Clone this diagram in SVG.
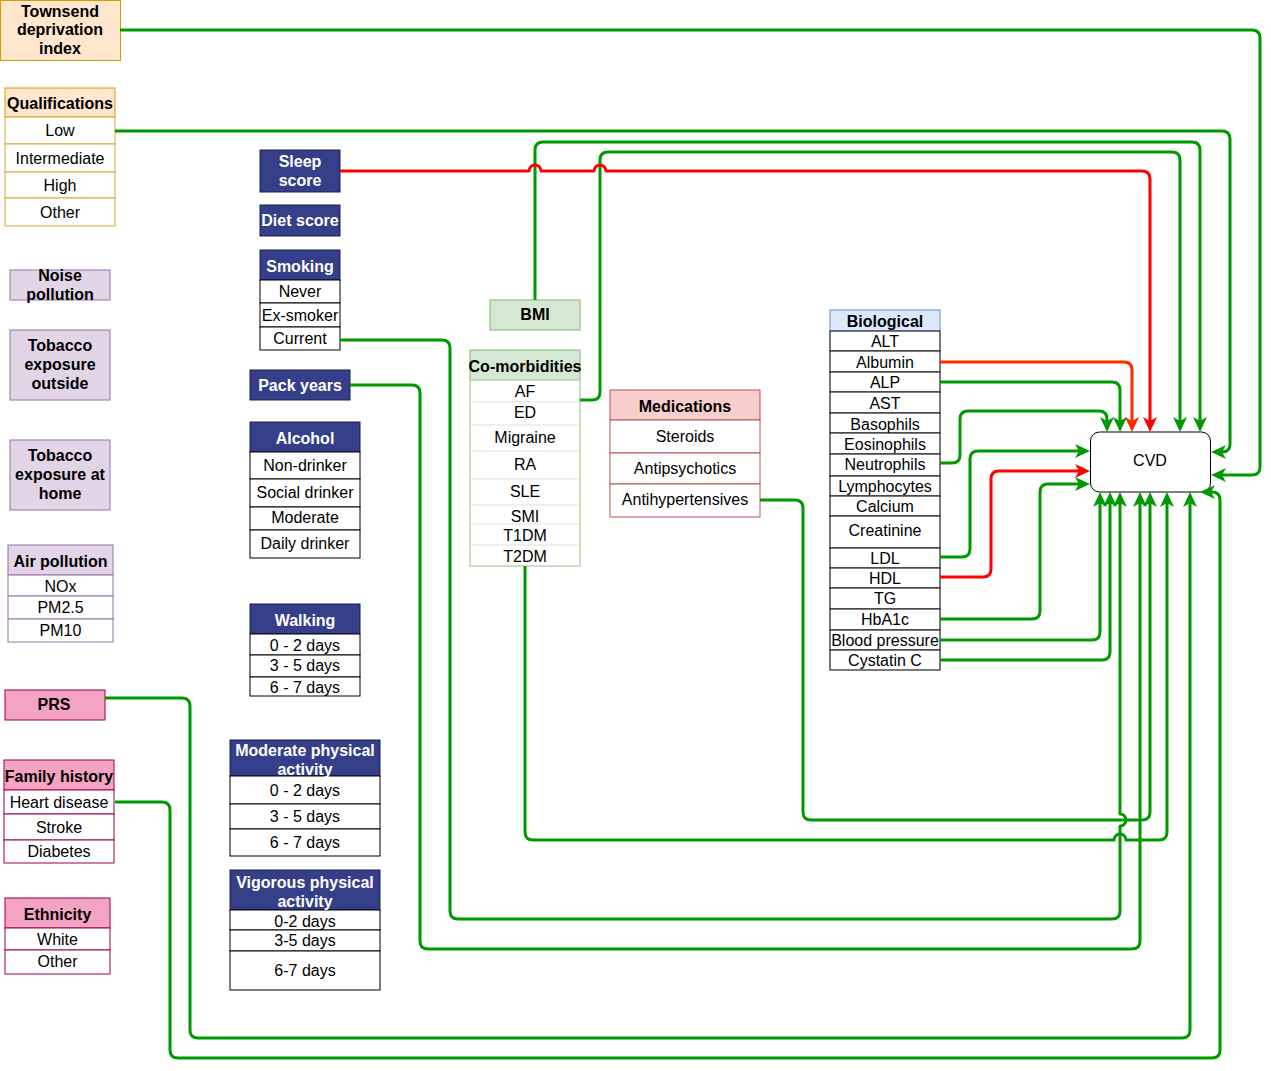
<svg xmlns="http://www.w3.org/2000/svg" width="1271" height="1071" viewBox="0 0 1271 1071">
<style>
.t{font-family:"Liberation Sans",Arial,Helvetica,sans-serif;font-size:16px;text-anchor:middle;dominant-baseline:central;fill:#000}
.b{font-weight:bold}
.w{fill:#fff}
.navy{fill:#353f89;stroke:#1c2050;stroke-width:1}
.cell{fill:#fff;stroke:#000;stroke-width:1}
.bcell{fill:#fff;stroke:#333;stroke-width:1.3}
.orange{fill:#ffe6cc;stroke:#d79b00}
.orcell{fill:#fff;stroke:#d9a530}
.purple{fill:#e1d5e7;stroke:#9673a6}
.pucell{fill:#fff;stroke:#9673a6}
.pink{fill:#f5a3c3;stroke:#99004d}
.pkcell{fill:#fff;stroke:#99004d}
.green{fill:#d5e8d4;stroke:#82b366}
.grcell{fill:#fff;stroke:#e2e8df}
.grout{fill:none;stroke:#a9c998}
.red{fill:#f8cecc;stroke:#b85450}
.rdcell{fill:#fff;stroke:#b85450}
.blue{fill:#dae8fc;stroke:#6c8ebf}
.conn{fill:none;stroke-width:3;stroke:#009900;stroke-linejoin:round}
.rd{stroke:#ff0000}
.ro{stroke:#ff2a00}
</style>
<defs>
<marker id="ag" viewBox="0 0 15 14" refX="9" refY="7" markerWidth="15" markerHeight="14" markerUnits="userSpaceOnUse" orient="auto"><path d="M0,0 L15,7 L0,14 L4,7 Z" fill="#009900"/></marker>
<marker id="ar" viewBox="0 0 15 14" refX="9" refY="7" markerWidth="15" markerHeight="14" markerUnits="userSpaceOnUse" orient="auto"><path d="M0,0 L15,7 L0,14 L4,7 Z" fill="#ff0000"/></marker>
<marker id="ao" viewBox="0 0 15 14" refX="9" refY="7" markerWidth="15" markerHeight="14" markerUnits="userSpaceOnUse" orient="auto"><path d="M0,0 L15,7 L0,14 L4,7 Z" fill="#ff2a00"/></marker>
</defs>
<rect width="1271" height="1071" fill="#fff"/>

<g id="townsend">
<rect class="orange" x="0.5" y="0.5" width="120" height="60"/>
<text class="t b" x="60" y="11">Townsend</text>
<text class="t b" x="60" y="29.5">deprivation</text>
<text class="t b" x="60" y="48">index</text>
</g>

<g id="qualifications">
<rect class="orange" x="5" y="88" width="110" height="29"/>
<rect class="orcell" x="5" y="117" width="110" height="27"/>
<rect class="orcell" x="5" y="144" width="110" height="28"/>
<rect class="orcell" x="5" y="172" width="110" height="26"/>
<rect class="orcell" x="5" y="198" width="110" height="28"/>
<text class="t b" x="60" y="103">Qualifications</text>
<text class="t" x="60" y="130.5">Low</text>
<text class="t" x="60" y="158">Intermediate</text>
<text class="t" x="60" y="185">High</text>
<text class="t" x="60" y="212">Other</text>
</g>

<g id="noise">
<rect class="purple" x="10" y="270" width="100" height="30"/>
<text class="t b" x="60" y="275.5">Noise</text>
<text class="t b" x="60" y="294.5">pollution</text>
</g>

<g id="tobacco-outside">
<rect class="purple" x="10" y="330" width="100" height="70"/>
<text class="t b" x="60" y="345.5">Tobacco</text>
<text class="t b" x="60" y="364.5">exposure</text>
<text class="t b" x="60" y="383.5">outside</text>
</g>

<g id="tobacco-home">
<rect class="purple" x="10" y="440" width="100" height="70"/>
<text class="t b" x="60" y="455.5">Tobacco</text>
<text class="t b" x="60" y="474.5">exposure at</text>
<text class="t b" x="60" y="493.5">home</text>
</g>

<g id="air-pollution">
<rect class="purple" x="8" y="545" width="105" height="30"/>
<rect class="pucell" x="8" y="575" width="105" height="21"/>
<rect class="pucell" x="8" y="596" width="105" height="23"/>
<rect class="pucell" x="8" y="619" width="105" height="23"/>
<text class="t b" x="60.5" y="561">Air pollution</text>
<text class="t" x="60.5" y="586">NOx</text>
<text class="t" x="60.5" y="607">PM2.5</text>
<text class="t" x="60.5" y="630">PM10</text>
</g>

<g id="prs">
<rect class="pink" x="5" y="690" width="100" height="30"/>
<text class="t b" x="54" y="704.5">PRS</text>
</g>

<g id="family-history">
<rect class="pink" x="4" y="760" width="110" height="30"/>
<rect class="pkcell" x="4" y="790" width="110" height="24"/>
<rect class="pkcell" x="4" y="814" width="110" height="26"/>
<rect class="pkcell" x="4" y="840" width="110" height="23"/>
<text class="t b" x="59" y="776">Family history</text>
<text class="t" x="59" y="802">Heart disease</text>
<text class="t" x="59" y="827">Stroke</text>
<text class="t" x="59" y="851">Diabetes</text>
</g>

<g id="ethnicity">
<rect class="pink" x="5" y="898" width="105" height="30"/>
<rect class="pkcell" x="5" y="928" width="105" height="22"/>
<rect class="pkcell" x="5" y="950" width="105" height="24"/>
<text class="t b" x="57.5" y="914">Ethnicity</text>
<text class="t" x="57.5" y="939.5">White</text>
<text class="t" x="57.5" y="961.5">Other</text>
</g>

<g id="sleep">
<rect class="navy" x="260" y="150" width="80" height="42"/>
<text class="t b w" x="300" y="161.5">Sleep</text>
<text class="t b w" x="300" y="180.5">score</text>
</g>

<g id="diet">
<rect class="navy" x="260" y="205" width="80" height="31"/>
<text class="t b w" x="300" y="220.5">Diet score</text>
</g>

<g id="smoking">
<rect class="navy" x="260" y="250" width="80" height="30"/>
<rect class="cell" x="260" y="280" width="80" height="23"/>
<rect class="cell" x="260" y="303" width="80" height="24"/>
<rect class="cell" x="260" y="327" width="80" height="23"/>
<text class="t b w" x="300" y="266">Smoking</text>
<text class="t" x="300" y="291.5">Never</text>
<text class="t" x="300" y="315">Ex-smoker</text>
<text class="t" x="300" y="338">Current</text>
</g>

<g id="pack-years">
<rect class="navy" x="250" y="370" width="100" height="30"/>
<text class="t b w" x="300" y="385">Pack years</text>
</g>

<g id="alcohol">
<rect class="navy" x="250" y="422" width="110" height="30"/>
<rect class="cell" x="250" y="452" width="110" height="27"/>
<rect class="cell" x="250" y="479" width="110" height="28"/>
<rect class="cell" x="250" y="507" width="110" height="23"/>
<rect class="cell" x="250" y="530" width="110" height="28"/>
<text class="t b w" x="305" y="438">Alcohol</text>
<text class="t" x="305" y="465">Non-drinker</text>
<text class="t" x="305" y="492.5">Social drinker</text>
<text class="t" x="305" y="517.5">Moderate</text>
<text class="t" x="305" y="543.5">Daily drinker</text>
</g>

<g id="walking">
<rect class="navy" x="250" y="604" width="110" height="30"/>
<rect class="cell" x="250" y="634" width="110" height="21"/>
<rect class="cell" x="250" y="655" width="110" height="22"/>
<rect class="cell" x="250" y="677" width="110" height="19"/>
<text class="t b w" x="305" y="620">Walking</text>
<text class="t" x="305" y="645.5">0 - 2 days</text>
<text class="t" x="305" y="665.5">3 - 5 days</text>
<text class="t" x="305" y="687">6 - 7 days</text>
</g>

<g id="moderate-pa">
<rect class="navy" x="230" y="740" width="150" height="36"/>
<rect class="cell" x="230" y="776" width="150" height="28"/>
<rect class="cell" x="230" y="804" width="150" height="25"/>
<rect class="cell" x="230" y="829" width="150" height="27"/>
<text class="t b w" x="305" y="750.5">Moderate physical</text>
<text class="t b w" x="305" y="769">activity</text>
<text class="t" x="305" y="790">0 - 2 days</text>
<text class="t" x="305" y="816.5">3 - 5 days</text>
<text class="t" x="305" y="842.5">6 - 7 days</text>
</g>

<g id="vigorous-pa">
<rect class="navy" x="230" y="870" width="150" height="40"/>
<rect class="cell" x="230" y="910" width="150" height="20"/>
<rect class="cell" x="230" y="930" width="150" height="21"/>
<rect class="cell" x="230" y="951" width="150" height="39"/>
<text class="t b w" x="305" y="882.5">Vigorous physical</text>
<text class="t b w" x="305" y="901.5">activity</text>
<text class="t" x="305" y="921">0-2 days</text>
<text class="t" x="305" y="940.5">3-5 days</text>
<text class="t" x="305" y="970.5">6-7 days</text>
</g>

<g id="bmi">
<rect class="green" x="490" y="300" width="90" height="30"/>
<text class="t b" x="535" y="314.5">BMI</text>
</g>

<g id="comorbidities">
<rect class="green" x="470" y="350" width="110" height="30"/>
<rect class="grcell" x="470" y="380" width="110" height="22"/>
<rect class="grcell" x="470" y="402" width="110" height="23"/>
<rect class="grcell" x="470" y="425" width="110" height="26"/>
<rect class="grcell" x="470" y="451" width="110" height="28"/>
<rect class="grcell" x="470" y="479" width="110" height="26"/>
<rect class="grcell" x="470" y="505" width="110" height="19"/>
<rect class="grcell" x="470" y="524" width="110" height="21"/>
<rect class="grcell" x="470" y="545" width="110" height="21"/>
<rect class="grout" x="470" y="380" width="110" height="186"/>
<text class="t b" x="525" y="366">Co-morbidities</text>
<text class="t" x="525" y="391.5">AF</text>
<text class="t" x="525" y="412.5">ED</text>
<text class="t" x="525" y="437.5">Migraine</text>
<text class="t" x="525" y="464.5">RA</text>
<text class="t" x="525" y="491.5">SLE</text>
<text class="t" x="525" y="516">SMI</text>
<text class="t" x="525" y="535">T1DM</text>
<text class="t" x="525" y="556">T2DM</text>
</g>

<g id="medications">
<rect class="red" x="610" y="390" width="150" height="30"/>
<rect class="rdcell" x="610" y="420" width="150" height="33"/>
<rect class="rdcell" x="610" y="453" width="150" height="31"/>
<rect class="rdcell" x="610" y="484" width="150" height="33"/>
<text class="t b" x="685" y="406">Medications</text>
<text class="t" x="685" y="436.5">Steroids</text>
<text class="t" x="685" y="468.5">Antipsychotics</text>
<text class="t" x="685" y="499.5">Antihypertensives</text>
</g>

<g id="biological">
<rect class="blue" x="830" y="310" width="110" height="21"/>
<rect class="bcell" x="830" y="331" width="110" height="20"/>
<rect class="bcell" x="830" y="351" width="110" height="21"/>
<rect class="bcell" x="830" y="372" width="110" height="20"/>
<rect class="bcell" x="830" y="392" width="110" height="21"/>
<rect class="bcell" x="830" y="413" width="110" height="20"/>
<rect class="bcell" x="830" y="433" width="110" height="21"/>
<rect class="bcell" x="830" y="454" width="110" height="22"/>
<rect class="bcell" x="830" y="476" width="110" height="20"/>
<rect class="bcell" x="830" y="496" width="110" height="20"/>
<rect class="bcell" x="830" y="516" width="110" height="32"/>
<rect class="bcell" x="830" y="548" width="110" height="20"/>
<rect class="bcell" x="830" y="568" width="110" height="20"/>
<rect class="bcell" x="830" y="588" width="110" height="21"/>
<rect class="bcell" x="830" y="609" width="110" height="21"/>
<rect class="bcell" x="830" y="630" width="110" height="20"/>
<rect class="bcell" x="830" y="650" width="110" height="20"/>
<text class="t b" x="885" y="321.5">Biological</text>
<text class="t" x="885" y="341.5">ALT</text>
<text class="t" x="885" y="362">Albumin</text>
<text class="t" x="885" y="382">ALP</text>
<text class="t" x="885" y="403">AST</text>
<text class="t" x="885" y="424">Basophils</text>
<text class="t" x="885" y="444.5">Eosinophils</text>
<text class="t" x="885" y="464.5">Neutrophils</text>
<text class="t" x="885" y="486">Lymphocytes</text>
<text class="t" x="885" y="506">Calcium</text>
<text class="t" x="885" y="530.5">Creatinine</text>
<text class="t" x="885" y="558">LDL</text>
<text class="t" x="885" y="578">HDL</text>
<text class="t" x="885" y="598">TG</text>
<text class="t" x="885" y="619.5">HbA1c</text>
<text class="t" x="885" y="640">Blood pressure</text>
<text class="t" x="885" y="660">Cystatin C</text>
</g>

<g id="cvd">
<rect x="1090.5" y="432" width="120" height="60" rx="9" fill="#fff" stroke="#000" stroke-width="1"/>
<text class="t" x="1150" y="460">CVD</text>
</g>

<g id="connectors">
<path class="conn" marker-end="url(#ag)" d="M120,30 H1252 Q1260,30 1260,38 V467 Q1260,475 1252,475 H1217"/>
<path class="conn" marker-end="url(#ag)" d="M115,131 H1222 Q1230,131 1230,139 V444 Q1230,452 1222,452 H1217"/>
<path class="conn" marker-end="url(#ag)" d="M535,300 V150 Q535,142 543,142 H1192 Q1200,142 1200,150 V426"/>
<path class="conn" marker-end="url(#ag)" d="M580,400 H592 Q600,400 600,392 V160 Q600,152 608,152 H1172 Q1180,152 1180,160 V426"/>
<path class="conn rd" marker-end="url(#ar)" d="M340,171 H529 A6,6 0 0 1 541,171 H594 A6,6 0 0 1 606,171 H1142 Q1150,171 1150,179 V426"/>
<path class="conn ro" marker-end="url(#ao)" d="M940,362 H1124 Q1132,362 1132,370 V426"/>
<path class="conn" marker-end="url(#ag)" d="M940,382 H1112 Q1120,382 1120,390 V426"/>
<path class="conn" marker-end="url(#ag)" d="M940,463 H952 Q960,463 960,455 V419 Q960,411 968,411 H1099 Q1107,411 1107,419 V426"/>
<path class="conn" marker-end="url(#ag)" d="M940,557 H962 Q970,557 970,549 V459 Q970,451 978,451 H1084"/>
<path class="conn rd" marker-end="url(#ar)" d="M940,577 H983 Q991,577 991,569 V479 Q991,471 999,471 H1084"/>
<path class="conn" marker-end="url(#ag)" d="M940,619 H1032 Q1040,619 1040,611 V492 Q1040,484 1048,484 H1084"/>
<path class="conn" marker-end="url(#ag)" d="M940,640 H1092 Q1100,640 1100,632 V498"/>
<path class="conn" marker-end="url(#ag)" d="M940,660 H1102 Q1110,660 1110,652 V498"/>
<path class="conn" marker-end="url(#ag)" d="M340,340 H442 Q450,340 450,348 V911 Q450,919 458,919 H1112 Q1120,919 1120,911 V826 A6,6 0 0 0 1120,814 V498"/>
<path class="conn" marker-end="url(#ag)" d="M350,385 H412 Q420,385 420,393 V941 Q420,949 428,949 H1132 Q1140,949 1140,941 V498"/>
<path class="conn" marker-end="url(#ag)" d="M760,500 H795 Q803,500 803,508 V812 Q803,820 811,820 H1142 Q1150,820 1150,812 V498"/>
<path class="conn" marker-end="url(#ag)" d="M525,566 V832 Q525,840 533,840 H1114 A6,6 0 0 1 1126,840 H1159 Q1167,840 1167,832 V498"/>
<path class="conn" marker-end="url(#ag)" d="M105,698 H182 Q190,698 190,706 V1030 Q190,1038 198,1038 H1182 Q1190,1038 1190,1030 V498"/>
<path class="conn" marker-end="url(#ag)" d="M115,802 H162 Q170,802 170,810 V1050 Q170,1058 178,1058 H1212 Q1220,1058 1220,1050 V500 Q1220,492 1212,492 H1206"/>
</g>
</svg>
